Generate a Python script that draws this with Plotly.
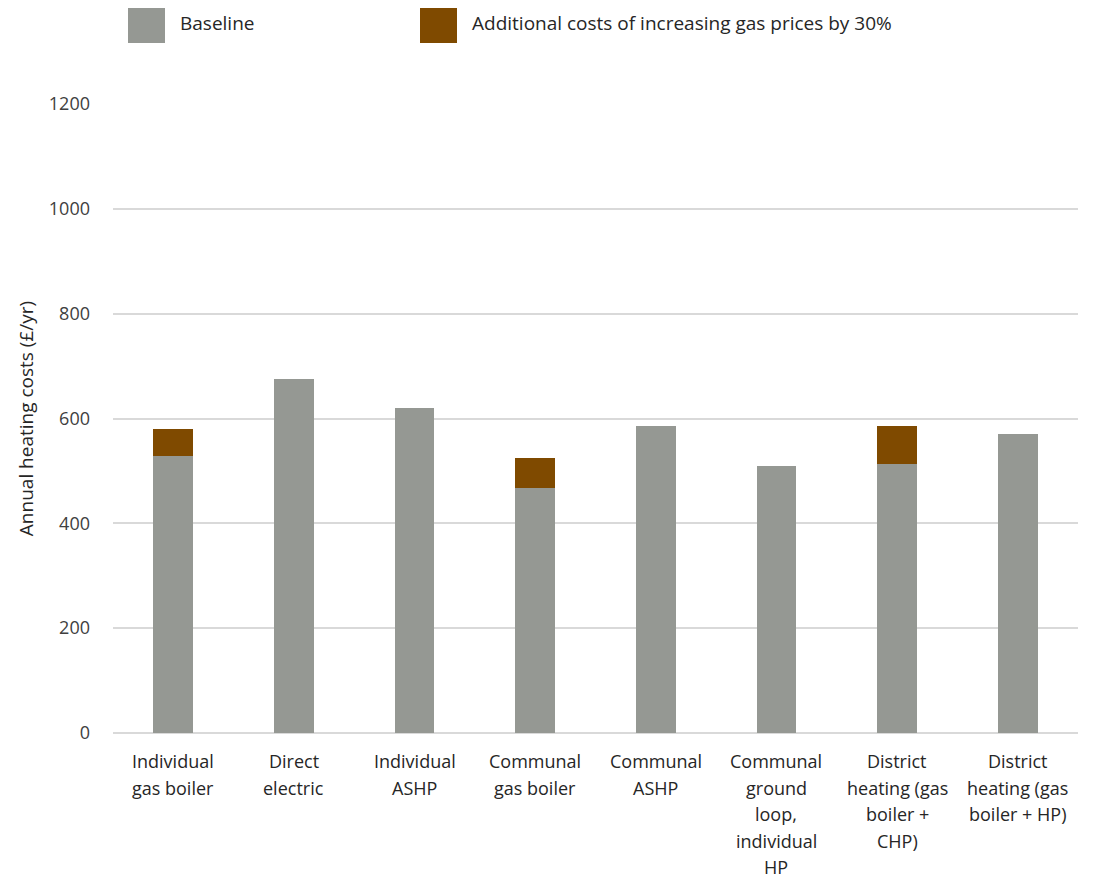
import plotly.graph_objects as go

# Heating options and annual costs
categories = [
    "Individual<br>gas boiler",
    "Direct<br>electric",
    "Individual<br>ASHP",
    "Communal<br>gas boiler",
    "Communal<br>ASHP",
    "Communal<br>ground<br>loop,<br>individual<br>HP",
    "District<br>heating (gas<br>boiler +<br>CHP)",
    "District<br>heating (gas<br>boiler + HP)",
]
baseline = [529, 676, 620, 468, 585, 509, 514, 570]
gas_extra = [51, 0, 0, 56, 0, 0, 71, 0]

series_names = ["Baseline", "Additional costs of increasing gas prices by 30%"]
series_colors = ["#959893", "#7F4A00"]

FONT = "Open Sans"
TEXT = "#262626"

fig = go.Figure()
fig.add_trace(go.Bar(x=categories, y=baseline, name=series_names[0],
                     marker=dict(color=series_colors[0], line=dict(width=0))))
fig.add_trace(go.Bar(x=categories, y=gas_extra, name=series_names[1],
                     marker=dict(color=series_colors[1], line=dict(width=0))))

# category labels, one annotation per line to get the wide line spacing
for cat in categories:
    for i, line in enumerate(cat.split("<br>")):
        fig.add_annotation(x=cat, xref="x", y=0, yref="paper",
                           yshift=-28 - 26.5 * i, yanchor="middle",
                           text=line, showarrow=False,
                           font=dict(family=FONT, size=18, color=TEXT))

# legend drawn by hand: big square swatches
legend_x = [128, 420]
for name, col, lx in zip(series_names, series_colors, legend_x):
    fig.add_shape(type="rect", xref="paper", yref="paper",
                  x0=(lx - 113) / 965, x1=(lx + 37 - 113) / 965,
                  y0=(733 - 43) / 629, y1=(733 - 6) / 629,
                  fillcolor=col, line=dict(width=0))
    fig.add_annotation(xref="paper", yref="paper",
                       x=(lx + 50 - 113) / 965, y=(733 - 23) / 629,
                       xanchor="left", yanchor="middle", text=name,
                       showarrow=False,
                       font=dict(family=FONT, size=19, color=TEXT))

# margins allow for the 8px page margin round the plot div
fig.update_layout(
    barmode="stack",
    bargap=0.67,
    showlegend=False,
    plot_bgcolor="white",
    paper_bgcolor="white",
    margin=dict(l=105, r=7, t=96, b=149),
    font=dict(family=FONT, size=18, color=TEXT),
    xaxis=dict(showticklabels=False, showgrid=False, zeroline=False,
               showline=False, ticks=""),
    yaxis=dict(range=[0, 1200], tickvals=[0, 200, 400, 600, 800, 1000, 1200],
               showgrid=True, gridcolor="#d9d9d9", gridwidth=2,
               zeroline=True, zerolinecolor="#d9d9d9", zerolinewidth=2,
               showline=False, ticklabelstandoff=22,
               tickfont=dict(family=FONT, size=18, color="#404040"),
               title=dict(text="Annual heating costs (£/yr)", standoff=10,
                          font=dict(family=FONT, size=19, color=TEXT))),
)

fig.write_html("out.html")
